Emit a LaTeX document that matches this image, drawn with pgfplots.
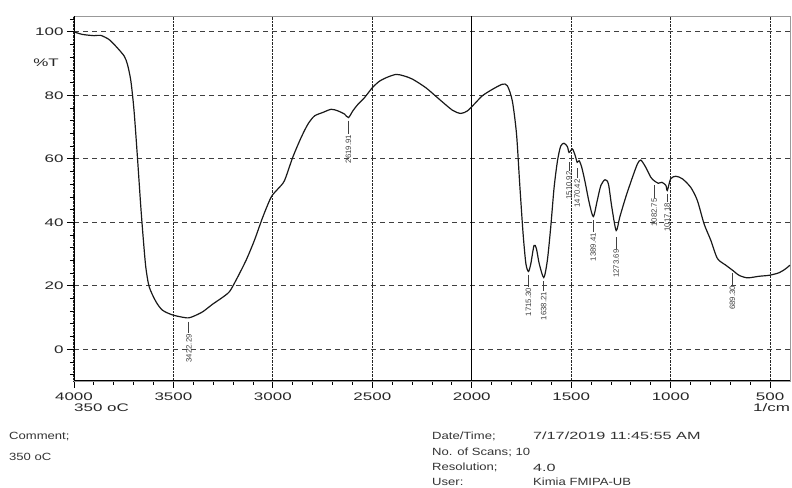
\documentclass[border=0pt]{standalone}
\usepackage{fontspec}
\setmainfont{Liberation Sans}[FakeStretch=1.25]
\newfontfamily\numfont{Liberation Sans}[FakeStretch=1.55]
\newfontfamily\labfont{Liberation Sans}
\usepackage{pgfplots}
\pgfplotsset{compat=1.18}
\begin{document}
\begin{tikzpicture}[x=1bp,y=1bp]
\useasboundingbox (0,0) rectangle (792,488);
\begin{axis}[
  scale only axis, width=716bp, height=365bp,
  at={(74bp,107bp)}, anchor=south west,
  x dir=reverse, xmin=400, xmax=4000, ymin=-10, ymax=105,
  xtick={500,1000,...,4000}, ytick={0,20,...,100},
  minor xtick={500,600,...,3900},
  minor ytick={-8,-4,...,104},
  tick align=outside, tick pos=left,
  major tick length=7bp, minor tick length=4bp,
  every tick/.style={black, line width=0.8pt},
  xmajorgrids, ymajorgrids,
  x grid style={black!85, densely dotted, line width=1pt},
  y grid style={black!75, dash pattern=on 5bp off 4bp, line width=0.8pt},
  axis line style={black!40, line width=0.8pt},
  /pgf/number format/assume math mode=true,
  /pgf/number format/1000 sep={},
  tick label style={font=\numfont\fontsize{11}{13}\selectfont, text=black!85},
  xticklabel style={yshift=-1bp},
]
\draw[black, line width=1.4pt] (axis cs:2000,-10) -- (axis cs:2000,105);
\draw[black, line width=1.2pt] (rel axis cs:0,1) -- (rel axis cs:0,0) -- (rel axis cs:1,0);
\addplot[black!90, line width=1.2pt, smooth, tension=0.45] coordinates {
(4000,100) (3958,99.2) (3899,98.8) (3866,98.9) (3824,97.6) (3790,95.5)
(3748,92.4) (3731,89.7) (3714,84.5) (3698,75.1) (3681,60.5) (3664,44.8)
(3651,34.3) (3639,25.9) (3622,19.7) (3588,15.0) (3555,12.3) (3504,10.8)
(3446,10.0) (3422,9.9) (3395,10.5) (3353,11.8) (3303,14.2) (3261,16.0)
(3219,18.1) (3185,21.8) (3135,28.0) (3093,34.3) (3051,41.6) (3009,47.9)
(2975,50.5) (2942,53.1) (2900,60.5) (2858,66.7) (2824,70.9) (2791,73.5)
(2749,74.6) (2707,75.6) (2673,75.1) (2640,74.1) (2620,73.0) (2598,75.1)
(2572,77.2) (2539,79.3) (2500,82.4) (2463,84.5) (2421,85.8) (2379,86.6)
(2340,86.1) (2298,85.1) (2231,82.4) (2164,78.8) (2097,75.3) (2055,74.3)
(2022,75.1) (1988,77.2) (1946,79.9) (1896,81.9) (1846,83.5) (1821,83.0)
(1796,78.2) (1775,67.8) (1759,52.1) (1742,36.4) (1728,27.0) (1715,24.5)
(1703,27.0) (1687,32.7) (1675,31.7) (1661,27.0) (1638,22.6) (1620,28.0)
(1603,38.5) (1586,51.0) (1569,59.4) (1553,64.0) (1536,64.9) (1519,63.8)
(1511,62.0) (1494,63.1) (1480,61.0) (1470,58.9) (1460,59.4) (1447,57.3)
(1430,52.6) (1410,46.3) (1389,41.8) (1369,46.9) (1351,51.6) (1330,53.4)
(1313,52.1) (1296,44.8) (1274,37.4) (1256,41.6) (1226,47.9) (1192,54.2)
(1167,58.4) (1150,59.6) (1125,57.3) (1100,54.2) (1083,53.1) (1062,52.3)
(1044,52.6) (1024,51.6) (1017,50.0) (1000,53.7) (974,54.5) (941,53.7)
(899,51.0) (866,46.9) (832,39.5) (798,34.3) (765,28.6) (723,26.5)
(689,24.9) (656,23.3) (614,22.5) (555,23.0) (505,23.3) (455,24.1)
(421,25.4) (400,26.5)
};
\draw[black!75, line width=0.9pt] (axis cs:3422.29,8.7) -- (axis cs:3422.29,5.0) node[anchor=east, rotate=90, inner sep=0.5pt, font=\labfont\fontsize{7.8}{9}\selectfont, text=black!75] {3422.29};
\draw[black!75, line width=0.9pt] (axis cs:2619.91,72) -- (axis cs:2619.91,67.8) node[anchor=east, rotate=90, inner sep=0.5pt, font=\labfont\fontsize{7.8}{9}\selectfont, text=black!75] {2619.91};
\draw[black!75, line width=0.9pt] (axis cs:1715.30,23.5) -- (axis cs:1715.30,19.6) node[anchor=east, rotate=90, inner sep=0.5pt, font=\labfont\fontsize{7.8}{9}\selectfont, text=black!75] {1715.30};
\draw[black!75, line width=0.9pt] (axis cs:1638.21,21.5) -- (axis cs:1638.21,18.3) node[anchor=east, rotate=90, inner sep=0.5pt, font=\labfont\fontsize{7.8}{9}\selectfont, text=black!75] {1638.21};
\draw[black!75, line width=0.9pt] (axis cs:1510.92,59.0) -- (axis cs:1510.92,56.3) node[anchor=east, rotate=90, inner sep=0.5pt, font=\labfont\fontsize{7.8}{9}\selectfont, text=black!75] {1510.92};
\draw[black!75, line width=0.9pt] (axis cs:1470.42,57.0) -- (axis cs:1470.42,53.8) node[anchor=east, rotate=90, inner sep=0.5pt, font=\labfont\fontsize{7.8}{9}\selectfont, text=black!75] {1470.42};
\draw[black!75, line width=0.9pt] (axis cs:1389.41,40.6) -- (axis cs:1389.41,36.9) node[anchor=east, rotate=90, inner sep=0.5pt, font=\labfont\fontsize{7.8}{9}\selectfont, text=black!75] {1389.41};
\draw[black!75, line width=0.9pt] (axis cs:1273.69,35.3) -- (axis cs:1273.69,31.7) node[anchor=east, rotate=90, inner sep=0.5pt, font=\labfont\fontsize{7.8}{9}\selectfont, text=black!75] {1273.69};
\draw[black!75, line width=0.9pt] (axis cs:1082.75,51.6) -- (axis cs:1082.75,47.8) node[anchor=east, rotate=90, inner sep=0.5pt, font=\labfont\fontsize{7.8}{9}\selectfont, text=black!75] {1082.75};
\draw[black!75, line width=0.9pt] (axis cs:1017.18,48.8) -- (axis cs:1017.18,46.3) node[anchor=east, rotate=90, inner sep=0.5pt, font=\labfont\fontsize{7.8}{9}\selectfont, text=black!75] {1017.18};
\draw[black!75, line width=0.9pt] (axis cs:689.30,24.0) -- (axis cs:689.30,20.2) node[anchor=east, rotate=90, inner sep=0.5pt, font=\labfont\fontsize{7.8}{9}\selectfont, text=black!75] {689.30};
\end{axis}
\node[font=\numfont\fontsize{11}{13}\selectfont, text=black!85] at (46,425) {\%T};
\node[anchor=west, inner sep=0pt, font=\numfont\fontsize{11}{13}\selectfont, text=black!85] at (74,80) {350 oC};
\node[anchor=west, inner sep=0pt, font=\numfont\fontsize{11}{13}\selectfont, text=black!85] at (753,80) {1/cm};
\begin{scope}[every node/.style={anchor=west, inner sep=0pt, font=\fontsize{10.5}{12}\selectfont, text=black!80}]
\node at (9,51) {Comment;};
\node at (9,31) {350 oC};
\node at (432,52) {Date/Time;};
\node[font=\numfont\fontsize{10.5}{12}\selectfont] at (533,52) {7/17/2019 11:45:55 AM};
\node at (432,36) {No. of Scans; 10};
\node at (432,20.5) {Resolution;};
\node[font=\numfont\fontsize{10.5}{12}\selectfont] at (533,20.5) {4.0};
\node at (432,6) {User:};
\node at (533,6) {Kimia FMIPA-UB};
\end{scope}
\end{tikzpicture}
\end{document}
